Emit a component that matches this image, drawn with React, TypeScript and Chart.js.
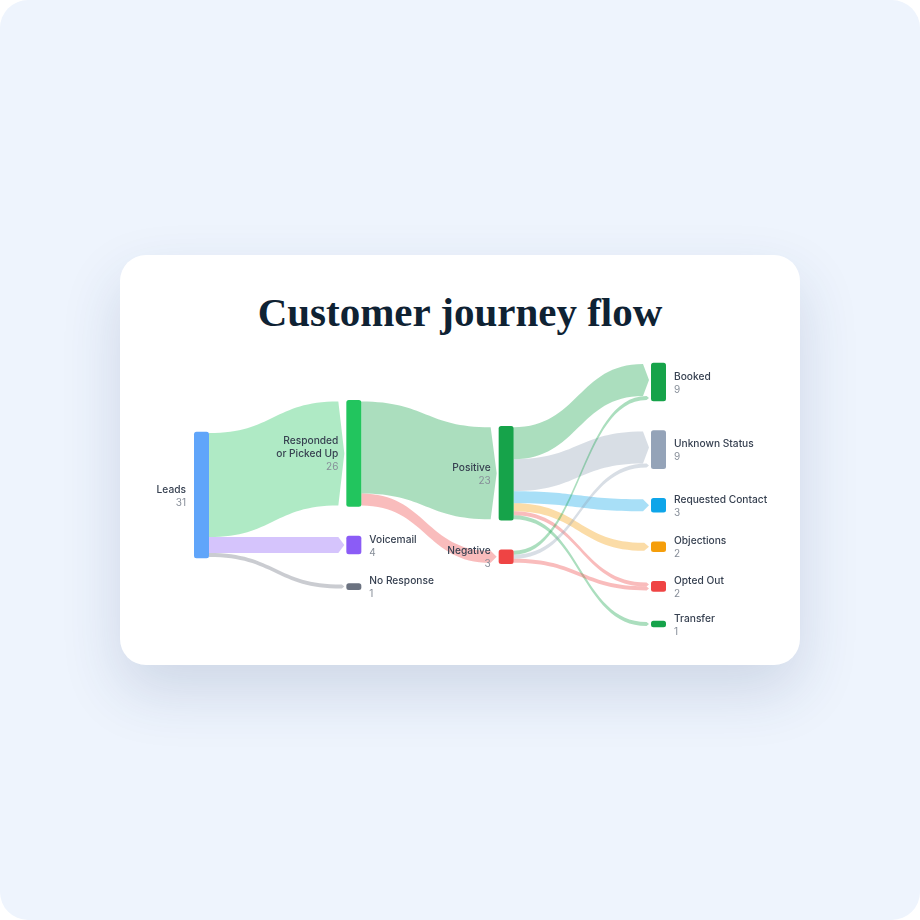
import React, { useEffect, useRef } from 'react';
import { Chart, registerables } from 'chart.js';

Chart.register(...registerables);

// ---- data ----
const nodeNames = [
  'Leads',
  'Responded\nor Picked Up',
  'Voicemail',
  'No Response',
  'Positive',
  'Negative',
  'Booked',
  'Unknown Status',
  'Requested Contact',
  'Objections',
  'Opted Out',
  'Transfer',
];
const nodeColumns = [0, 1, 1, 1, 2, 2, 3, 3, 3, 3, 3, 3];
const flowSources = [0, 0, 0, 1, 1, 4, 4, 4, 4, 4, 4, 5, 5, 5];
const flowTargets = [1, 2, 3, 4, 5, 6, 7, 8, 9, 10, 11, 6, 7, 10];
const flowValues = [26, 4, 1, 23, 3, 8, 8, 3, 2, 1, 1, 1, 1, 1];

// ---- style ----
const nodeColors = [
  '#60A5FA',
  '#22C55E',
  '#8B5CF6',
  '#6B7280',
  '#16A34A',
  '#EF4444',
  '#16A34A',
  '#94A3B8',
  '#0EA5E9',
  '#F59E0B',
  '#EF4444',
  '#16A34A',
];
const NODE_PAD = 0.65; // extra height per node (value units)
const NODE_GAP = 7.25; // gap between nodes (value units)
const Y_MAX = 70;
const NODE_W = 15;
const FLOW_ALPHA = 0.36;

function hexToRgba(hex: string, a: number) {
  const h = hex.replace('#', '');
  const r = parseInt(h.slice(0, 2), 16);
  const g = parseInt(h.slice(2, 4), 16);
  const b = parseInt(h.slice(4, 6), 16);
  return `rgba(${r},${g},${b},${a})`;
}

function computeLayout() {
  const n = nodeNames.length;
  const inSum = new Array(n).fill(0);
  const outSum = new Array(n).fill(0);
  flowValues.forEach((v, i) => {
    outSum[flowSources[i]] += v;
    inSum[flowTargets[i]] += v;
  });
  const values = nodeNames.map((_, i) => Math.max(inSum[i], outSum[i]));
  const hasOut = outSum.map((v) => v > 0);
  const y0 = new Array(n).fill(0);
  const y1 = new Array(n).fill(0);
  const cols = Array.from(new Set(nodeColumns));
  cols.forEach((c) => {
    const ids = nodeNames.map((_, i) => i).filter((i) => nodeColumns[i] === c);
    const total =
      ids.reduce((s, i) => s + values[i] + NODE_PAD, 0) + NODE_GAP * (ids.length - 1);
    let y = Y_MAX / 2 - total / 2;
    ids.forEach((i) => {
      y0[i] = y;
      y1[i] = y + values[i] + NODE_PAD;
      y = y1[i] + NODE_GAP;
    });
  });
  return { values, hasOut, y0, y1 };
}

const sankeyPlugin = {
  id: 'sankeyDraw',
  afterDatasetsDraw(chart: any) {
    const ctx: CanvasRenderingContext2D = chart.ctx;
    const xs = chart.scales.x;
    const ys = chart.scales.y;
    const px = (c: number) => xs.getPixelForValue(c);
    const py = (u: number) => ys.getPixelForValue(u);
    const { values, hasOut, y0, y1 } = computeLayout();
    const outOff = y0.map((v) => v + NODE_PAD / 2);
    const inOff = y0.map((v) => v + NODE_PAD / 2);

    ctx.save();
    // flows
    flowValues.forEach((v, i) => {
      const s = flowSources[i];
      const t = flowTargets[i];
      const sy0 = outOff[s];
      const sy1 = sy0 + v;
      outOff[s] = sy1;
      const ty0 = inOff[t];
      const ty1 = ty0 + v;
      inOff[t] = ty1;
      const x0 = px(nodeColumns[s]) + NODE_W;
      const tip = px(nodeColumns[t]) - 2;
      const a0 = py(sy0);
      const a1 = py(sy1);
      const b0 = py(ty0);
      const b1 = py(ty1);
      const thick = Math.abs(b1 - b0);
      const depth = Math.min(6, thick * 0.6);
      const xe = tip - depth;
      const cx = (x0 + xe) / 2;
      ctx.beginPath();
      ctx.moveTo(x0, a0);
      ctx.bezierCurveTo(cx, a0, cx, b0, xe, b0);
      ctx.lineTo(tip, (b0 + b1) / 2);
      ctx.lineTo(xe, b1);
      ctx.bezierCurveTo(cx, b1, cx, a1, x0, a1);
      ctx.closePath();
      ctx.fillStyle = hexToRgba(nodeColors[t], FLOW_ALPHA);
      ctx.fill();
    });

    // nodes
    nodeNames.forEach((_, i) => {
      const x = px(nodeColumns[i]);
      const top = py(y0[i]);
      const bot = py(y1[i]);
      ctx.beginPath();
      (ctx as any).roundRect(x, top, NODE_W, bot - top, 2.5);
      ctx.fillStyle = nodeColors[i];
      ctx.fill();
    });

    // labels
    const lh = 13;
    nodeNames.forEach((name, i) => {
      const x = px(nodeColumns[i]);
      const center = (py(y0[i]) + py(y1[i])) / 2 + 1;
      const lines = name.split('\n');
      const all = [...lines, String(values[i])];
      const startY = center - ((all.length - 1) * lh) / 2;
      const left = hasOut[i];
      ctx.textAlign = left ? 'right' : 'left';
      ctx.textBaseline = 'middle';
      const tx = left ? x - 8 : x + NODE_W + 8;
      all.forEach((line, k) => {
        const isVal = k === all.length - 1;
        ctx.font = isVal ? '400 10px Inter' : '500 10.2px Inter';
        ctx.fillStyle = isVal ? '#868D98' : '#374151';
        ctx.fillText(line, tx, startY + k * lh);
      });
    });
    ctx.restore();
  },
};

export default function App() {
  const canvasRef = useRef<HTMLCanvasElement | null>(null);

  useEffect(() => {
    const canvas = canvasRef.current;
    if (!canvas) return;
    const { y0, y1 } = computeLayout();
    const chart = new Chart(canvas, {
      type: 'scatter',
      data: {
        datasets: [
          {
            label: 'nodes',
            data: nodeNames.map((_, i) => ({ x: nodeColumns[i], y: (y0[i] + y1[i]) / 2 })),
            pointRadius: 0,
            pointHoverRadius: 0,
          },
        ],
      },
      options: {
        responsive: false,
        animation: false,
        devicePixelRatio: 1,
        layout: { padding: { left: 74, right: 149, top: 100, bottom: 30 } },
        scales: {
          x: { type: 'linear', min: 0, max: 3, display: false },
          y: { type: 'linear', min: 0, max: Y_MAX, reverse: true, display: false },
        },
        plugins: {
          legend: { display: false },
          tooltip: { enabled: false },
          title: { display: false },
        },
      },
      plugins: [sankeyPlugin],
    });
    return () => chart.destroy();
  }, []);

  return (
    <div
      style={{
        position: 'fixed',
        left: 0,
        top: 0,
        width: 920,
        height: 920,
        borderRadius: 28,
        background: '#EEF4FD',
        overflow: 'hidden',
      }}
    >
      <div
        style={{
          position: 'absolute',
          left: 120,
          top: 255,
          width: 680,
          height: 410,
          borderRadius: 26,
          background: '#FFFFFF',
          boxShadow: '0 26px 60px rgba(40, 60, 110, 0.16)',
        }}
      >
        <div
          style={{
            position: 'absolute',
            left: 0,
            top: 34,
            width: 680,
            textAlign: 'center',
            fontFamily: '"Liberation Serif", serif',
            fontWeight: 700,
            fontSize: 41,
            color: '#0F2233',
            lineHeight: '46px',
          }}
        >
          Customer journey flow
        </div>
        <canvas
          ref={canvasRef}
          width={680}
          height={410}
          style={{ position: 'absolute', left: 0, top: 0, width: 680, height: 410 }}
        />
      </div>
    </div>
  );
}
